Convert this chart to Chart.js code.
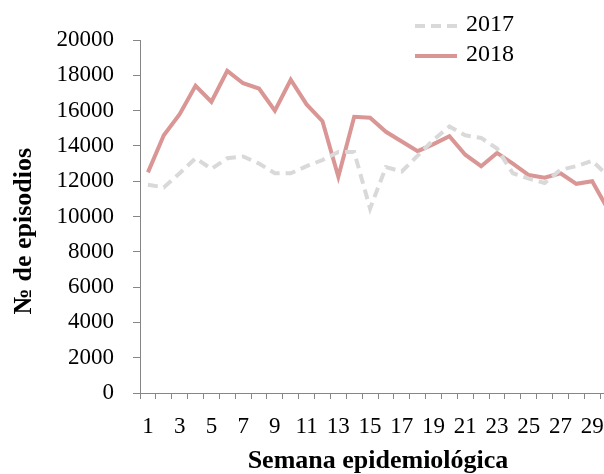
<!DOCTYPE html>
<html>
<head>
<meta charset="utf-8">
<script src="https://cdn.jsdelivr.net/npm/chart.js"></script>
<style>
  html, body { margin: 0; padding: 0; background: #fff; overflow: hidden; }
  #wrap { width: 604px; height: 474px; overflow: hidden; }
</style>
</head>
<body>
<div id="wrap"><canvas id="myChart" width="624" height="474"></canvas></div>
<script>
// semanas epidemiológicas (the chart is cropped on the right, week 30 only shows as a stub)
var weeks = [1,2,3,4,5,6,7,8,9,10,11,12,13,14,15,16,17,18,19,20,21,22,23,24,25,26,27,28,29,30];
var episodes2017 = [11800,11650,12450,13300,12700,13300,13400,13000,12450,12450,12850,13200,13650,13650,10450,
                    12800,12550,13450,14350,15100,14600,14450,13850,12450,12150,11900,12650,12850,13150,12300];
var episodes2018 = [12500,14600,15800,17400,16500,18250,17550,17250,16000,17750,16350,15400,12250,15650,15600,
                    14800,14250,13700,14100,14550,13500,12850,13600,13000,12350,12200,12450,11850,12000,10400];
var yTicks = [0,2000,4000,6000,8000,10000,12000,14000,16000,18000,20000];

var FONT = "'Liberation Serif', 'Times New Roman', serif";
var axisGray = "#868686";

// legend drawn by hand: two rows, top right, partly over the plot
// y title drawn by hand too, it sits a bit below the middle of the axis
var extras = {
  id: "extras",
  afterDraw: function (chart) {
    var ctx = chart.ctx;
    var rows = [26, 56];
    chart.data.datasets.forEach(function (ds, i) {
      var y = rows[i];
      ctx.save();
      ctx.strokeStyle = ds.borderColor;
      ctx.lineWidth = ds.borderWidth;
      ctx.setLineDash(ds.borderDash || []);
      ctx.beginPath();
      ctx.moveTo(415, y);
      ctx.lineTo(457, y);
      ctx.stroke();
      ctx.setLineDash([]);
      ctx.fillStyle = "#000";
      ctx.font = "24px " + FONT;
      ctx.textBaseline = "middle";
      ctx.fillText(ds.label, 466, y - 1);
      ctx.restore();
    });

    ctx.save();
    ctx.translate(24, 231);
    ctx.rotate(-Math.PI / 2);
    ctx.fillStyle = "#000";
    ctx.font = "bold 26px " + FONT;
    ctx.textAlign = "center";
    ctx.textBaseline = "middle";
    ctx.fillText("№ de episodios", 0, 0);
    ctx.restore();
  }
};

new Chart("myChart", {
  type: "line",
  data: {
    labels: weeks,
    datasets: [{
      label: "2017",
      data: episodes2017,
      borderColor: "#d9d9d9",
      borderWidth: 4,
      borderDash: [10, 6],
      pointRadius: 0,
      tension: 0,
      fill: false
    }, {
      label: "2018",
      data: episodes2018,
      borderColor: "#d99694",
      borderWidth: 4,
      pointRadius: 0,
      tension: 0,
      fill: false
    }]
  },
  plugins: [extras],
  options: {
    responsive: false,
    animation: false,
    layout: { padding: { top: 40, right: 8, left: 0, bottom: 0 } },
    plugins: {
      legend: { display: false },
      tooltip: { enabled: false }
    },
    scales: {
      x: {
        offset: true,
        afterFit: function (s) { s.height = 81; },
        border: { display: true, color: axisGray, width: 1 },
        grid: { drawOnChartArea: false, drawTicks: true, offset: true, tickLength: 6, color: axisGray },
        ticks: {
          autoSkip: false,
          maxRotation: 0,
          padding: 14,
          color: "#000",
          font: { family: FONT, size: 23 },
          callback: function (v, i) { return weeks[i] % 2 === 1 ? String(weeks[i]) : ""; }
        },
        title: {
          display: true,
          text: "Semana epidemiológica",
          color: "#000",
          font: { family: FONT, size: 26, weight: "bold" },
          padding: { top: 0, bottom: -3 }
        }
      },
      y: {
        min: 0,
        max: 20000,
        afterFit: function (s) { s.width = 140; },
        afterBuildTicks: function (s) { s.ticks = yTicks.map(function (v) { return { value: v }; }); },
        border: { display: true, color: axisGray, width: 1 },
        grid: { drawOnChartArea: false, drawTicks: true, tickLength: 7, color: axisGray },
        ticks: {
          padding: 19,
          color: "#000",
          font: { family: FONT, size: 23 },
          callback: function (v) { return String(v); }
        },
        title: { display: false }
      }
    }
  }
});
</script>
</body>
</html>
